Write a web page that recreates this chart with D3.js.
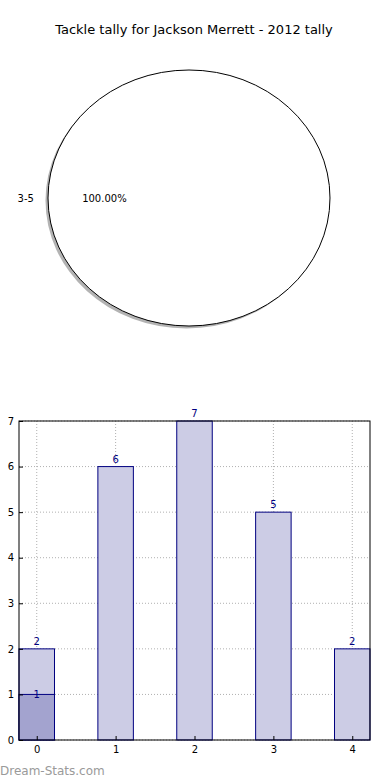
<!DOCTYPE html>
<html lang="en">
<head>
    <meta charset="UTF-8">
    <title>Tackle tally</title>
    <script src="https://d3js.org/d3.v7.min.js"></script>
    <style>
        body { margin: 0; background: #fff; font-family: "DejaVu Sans", sans-serif; }
        .grid line { stroke: #b0b0b0; stroke-dasharray: 1,2; }
    </style>
</head>
<body>
    <script>
        const title = "Tackle tally for Jackson Merrett - 2012 tally";
        const pieLabels = ["3-5"];
        const pieValues = [20];
        const barCats = [0, 1, 2, 3, 4];
        const barValues = [2, 6, 7, 5, 2];
        const subCats = [0];
        const subValues = [1];
        const yTicks = [0, 1, 2, 3, 4, 5, 6, 7];

        const width = 390, height = 780;
        const svg = d3.select("body").append("svg")
            .attr("width", width)
            .attr("height", height);

        svg.append("rect").attr("width", width).attr("height", height).attr("fill", "#fff");

        svg.append("text")
            .attr("x", 194).attr("y", 34)
            .attr("text-anchor", "middle")
            .attr("font-size", 13)
            .text(title);

        // pie (drawn as ellipse, like the squashed matplotlib axes)
        const cx = 189, cy = 198, rx = 141, ry = 128;
        const pie = d3.pie().sort(null).startAngle(-Math.PI).endAngle(Math.PI);
        const arcs = pie(pieValues);
        const arc = d3.arc().innerRadius(0).outerRadius(1);

        const shadow = svg.append("g")
            .attr("transform", `translate(${cx - 2.5},${cy + 2.5}) scale(${rx},${ry})`);
        shadow.selectAll("path").data(arcs).enter().append("path")
            .attr("d", arc)
            .attr("fill", "#808080")
            .attr("opacity", 0.6);

        const pg = svg.append("g")
            .attr("transform", `translate(${cx},${cy}) scale(${rx},${ry})`);
        pg.selectAll("path").data(arcs).enter().append("path")
            .attr("d", arc)
            .attr("fill", "#fff")
            .attr("stroke", "#000")
            .attr("stroke-width", 1)
            .attr("vector-effect", "non-scaling-stroke");

        const total = d3.sum(pieValues);
        arcs.forEach((a, i) => {
            // single slice: label sits on the left side
            const mid = (a.startAngle + a.endAngle) / 2;
            const dx = -Math.cos(mid), dy = Math.sin(mid);
            svg.append("text")
                .attr("x", cx + dx * rx * 1.1)
                .attr("y", cy + dy * ry * 1.1)
                .attr("dy", "0.35em")
                .attr("text-anchor", dx < 0 ? "end" : "start")
                .attr("font-size", 10)
                .text(pieLabels[i]);
            svg.append("text")
                .attr("x", cx + dx * rx * 0.6)
                .attr("y", cy + dy * ry * 0.6)
                .attr("dy", "0.35em")
                .attr("text-anchor", "middle")
                .attr("font-size", 10)
                .text((pieValues[i] / total * 100).toFixed(2) + "%");
        });

        // bar chart
        const pLeft = 19, pRight = 370, pTop = 421, pBottom = 740;
        const bw = 0.45;
        const x = d3.scaleLinear().domain([-bw / 2, 4 + bw / 2]).range([pLeft, pRight]);
        const y = d3.scaleLinear().domain([0, 7]).range([pBottom, pTop]);

        const grid = svg.append("g").attr("class", "grid");
        grid.selectAll("line.v").data(barCats).enter().append("line")
            .attr("x1", d => x(d)).attr("x2", d => x(d))
            .attr("y1", pTop).attr("y2", pBottom);
        grid.selectAll("line.h").data(yTicks).enter().append("line")
            .attr("x1", pLeft).attr("x2", pRight)
            .attr("y1", d => y(d)).attr("y2", d => y(d));

        svg.append("g").selectAll("rect").data(barCats).enter().append("rect")
            .attr("x", d => x(d - bw / 2))
            .attr("y", (d, i) => y(barValues[i]))
            .attr("width", x(bw) - x(0))
            .attr("height", (d, i) => y(0) - y(barValues[i]))
            .attr("fill", "#ccccE5")
            .attr("stroke", "#000080")
            .attr("stroke-width", 1);

        svg.append("g").selectAll("rect").data(subCats).enter().append("rect")
            .attr("x", d => x(d - bw / 2))
            .attr("y", (d, i) => y(subValues[i]))
            .attr("width", x(bw) - x(0))
            .attr("height", (d, i) => y(0) - y(subValues[i]))
            .attr("fill", "#a3a3cf")
            .attr("stroke", "#000080")
            .attr("stroke-width", 1);

        svg.append("g").selectAll("text").data(barCats).enter().append("text")
            .attr("x", d => x(d))
            .attr("y", (d, i) => y(barValues[i]) - 4)
            .attr("text-anchor", "middle")
            .attr("font-size", 10)
            .attr("fill", "#000080")
            .text((d, i) => barValues[i]);

        svg.append("g").selectAll("text").data(subCats).enter().append("text")
            .attr("x", d => x(d))
            .attr("y", (d, i) => y(subValues[i]) + 4)
            .attr("text-anchor", "middle")
            .attr("font-size", 10)
            .attr("fill", "#000080")
            .text((d, i) => subValues[i]);

        // frame
        svg.append("rect")
            .attr("x", pLeft).attr("y", pTop)
            .attr("width", pRight - pLeft).attr("height", pBottom - pTop)
            .attr("fill", "none").attr("stroke", "#000").attr("stroke-width", 1);

        const xAxis = d3.axisBottom(x).tickValues(barCats).tickSize(-4).tickPadding(6).tickFormat(d3.format("d"));
        const gx = svg.append("g").attr("transform", `translate(0,${pBottom})`).call(xAxis);
        const yAxis = d3.axisLeft(y).tickValues(yTicks).tickSize(-4).tickPadding(5).tickFormat(d3.format("d"));
        const gy = svg.append("g").attr("transform", `translate(${pLeft},0)`).call(yAxis);
        [gx, gy].forEach(g => {
            g.select(".domain").remove();
            g.selectAll("text").attr("font-size", 10).attr("font-family", "DejaVu Sans").attr("fill", "#000");
        });

        svg.append("text")
            .attr("x", 0).attr("y", 775)
            .attr("font-size", 12)
            .attr("fill", "#9a9a9a")
            .text("Dream-Stats.com");
    </script>
</body>
</html>
